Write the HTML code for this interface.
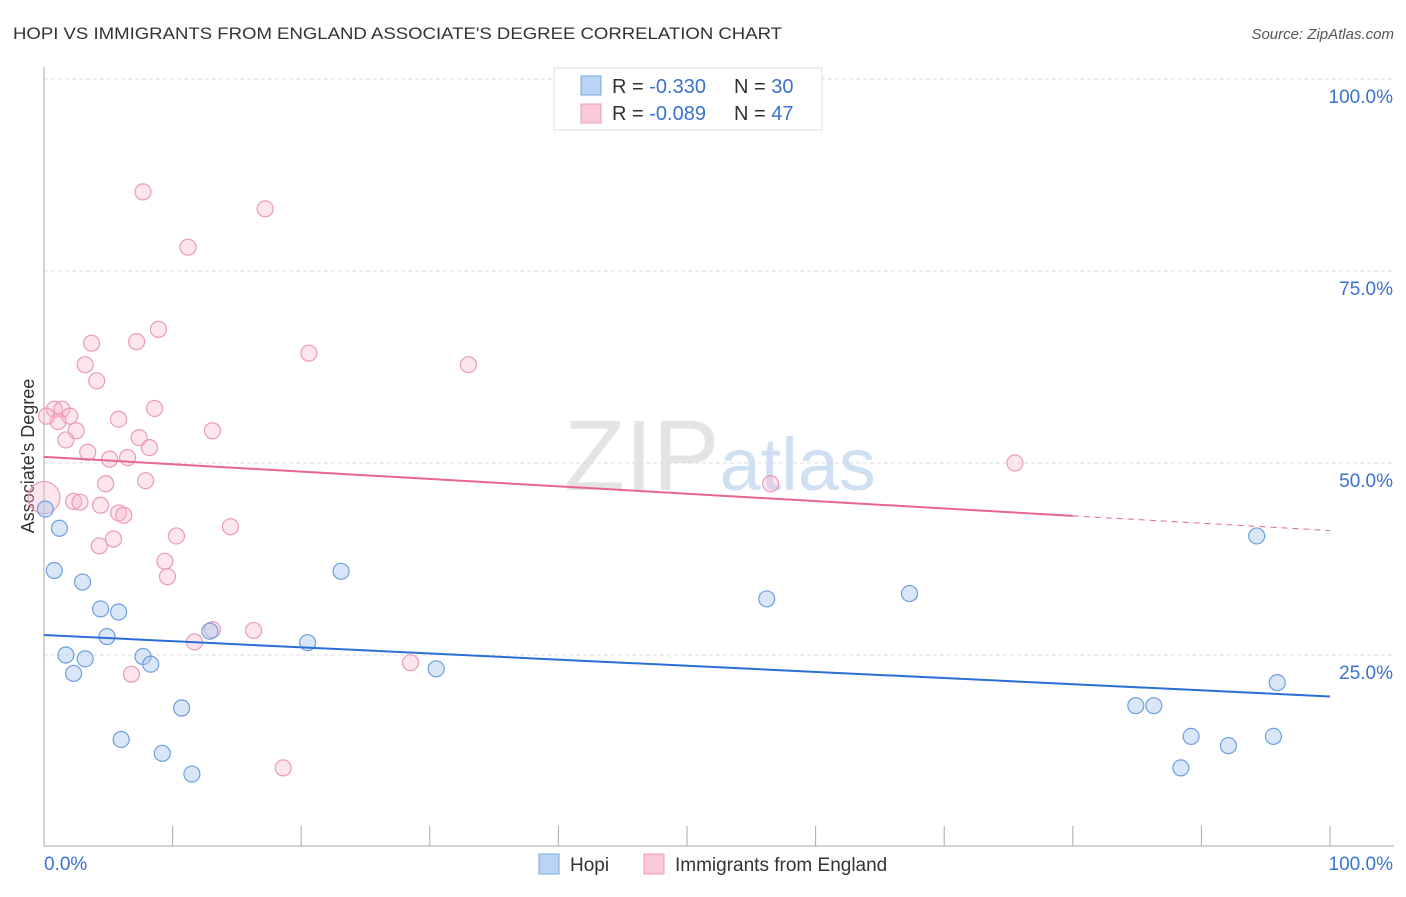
<!DOCTYPE html>
<html><head><meta charset="utf-8"><style>
body{margin:0;background:#fff;font-family:"Liberation Sans",sans-serif;}
svg text{font-family:"Liberation Sans",sans-serif;}
</style></head><body>
<svg width="1406" height="892" xmlns="http://www.w3.org/2000/svg">
<text x="13" y="39" font-size="17" fill="#333" textLength="769" lengthAdjust="spacingAndGlyphs">HOPI VS IMMIGRANTS FROM ENGLAND ASSOCIATE'S DEGREE CORRELATION CHART</text>
<text x="1394" y="39" font-size="15" fill="#555" text-anchor="end" font-style="italic">Source: ZipAtlas.com</text>
<text x="720" y="490" font-size="100" fill="#e4e4e4" text-anchor="middle" font-family="Liberation Serif">ZIP<tspan fill="#cfe0f3" font-family="Liberation Sans" font-size="74">atlas</tspan></text>
<g id="grid"></g>
<g id="axes"></g>
<text transform="translate(34,456) rotate(-90)" font-size="18" fill="#333" text-anchor="middle">Associate's Degree</text>
<g id="marks"></g>
<g>
<rect x="554" y="68" width="268" height="62" fill="#fff" stroke="#ddd"/>
<rect x="581" y="76" width="20" height="19" fill="#b9d4f5" stroke="#7aa7e0"/>
<rect x="581" y="104" width="20" height="19" fill="#f9c9d8" stroke="#ea9ab4"/>
<text x="612" y="93" font-size="20" fill="#333">R = <tspan fill="#3a72d1">-0.330</tspan></text>
<text x="734" y="93" font-size="20" fill="#333">N = <tspan fill="#3a72d1">30</tspan></text>
<text x="612" y="120" font-size="20" fill="#333">R = <tspan fill="#3a72d1">-0.089</tspan></text>
<text x="734" y="120" font-size="20" fill="#333">N = <tspan fill="#3a72d1">47</tspan></text>
</g>
<g>
<rect x="539" y="854" width="20" height="20" fill="#b9d4f5" stroke="#7aa7e0"/>
<text x="570" y="871" font-size="19" fill="#333">Hopi</text>
<rect x="644" y="854" width="20" height="20" fill="#f9c9d8" stroke="#ea9ab4"/>
<text x="675" y="871" font-size="19" fill="#333">Immigrants from England</text>
</g>
</svg>
<script>
const yTicks=[25,50,75,100];
const yTickLabels=["25.0%","50.0%","75.0%","100.0%"];
const hopiX=[0.1,1.2,0.8,3,4.4,5.8,4.9,1.7,3.2,2.3,7.7,8.3,10.7,6,9.2,11.5,12.9,20.5,23.1,30.5,56.2,67.3,84.9,86.3,89.2,88.4,92.1,95.6,94.3,95.9];
const hopiY=[44,41.5,36,34.5,31,30.6,27.4,25,24.5,22.6,24.8,23.8,18.1,14,12.2,9.5,28.1,26.6,35.9,23.2,32.3,33,18.4,18.4,14.4,10.3,13.2,14.4,40.5,21.4];
const engX=[7.7,17.2,11.2,8.9,7.2,3.7,20.6,3.2,33,4.1,0.8,1.4,2,8.6,5.8,1.1,2.5,13.1,1.7,7.4,8.2,3.4,5.1,6.5,7.9,4.8,75.5,56.5,0,2.3,2.8,4.4,5.8,6.2,10.3,14.5,5.4,4.3,9.4,9.6,13.1,16.3,11.7,28.5,6.8,18.6,0.2];
const engY=[85.3,83.1,78.1,67.4,65.8,65.6,64.3,62.8,62.8,60.7,57,57,56.1,57.1,55.7,55.4,54.2,54.2,53,53.3,52,51.4,50.5,50.7,47.7,47.3,50,47.3,45.5,45,44.9,44.5,43.5,43.2,40.5,41.7,40.1,39.2,37.2,35.2,28.3,28.2,26.7,24,22.5,10.3,56.1];
const hopiTrend=[27.6,19.6];
const engTrend=[50.8,41.2];
const ns="http://www.w3.org/2000/svg";
const X=v=>44+v*12.86, Y=v=>847-v*7.68;
function el(t,a,p){const e=document.createElementNS(ns,t);for(const k in a)e.setAttribute(k,a[k]);p.appendChild(e);return e;}
const grid=document.getElementById('grid'),axes=document.getElementById('axes'),marks=document.getElementById('marks');
yTicks.forEach((t,i)=>{
 const l=el('line',{x1:44,x2:1394,y1:Y(t),y2:Y(t),stroke:'#ddd','stroke-dasharray':'4,3'},grid);
 
 
 const tx=el('text',{x:1393,y:Y(t)+24,'font-size':19,fill:'#3a72d1','text-anchor':'end'},axes);
 tx.textContent=yTickLabels[i];
 
 
});
el('line',{x1:44,x2:44,y1:67,y2:846,stroke:'#aaa'},axes);
el('line',{x1:44,x2:1394,y1:846,y2:846,stroke:'#aaa'},axes);
for(let i=0;i<=10;i++){el('line',{x1:X(i*10),x2:X(i*10),y1:826,y2:846,stroke:'#aaa'},axes);}
const x0=el('text',{x:44,y:870,'font-size':19,fill:'#3a72d1'},axes);x0.textContent='0.0%';


const x1=el('text',{x:1393,y:870,'font-size':19,fill:'#3a72d1','text-anchor':'end'},axes);x1.textContent='100.0%';


engX.forEach((v,i)=>{const r=i===28?16:8;const c=el('circle',{cx:X(v),cy:Y(engY[i]),r:r,fill:'rgba(246,180,202,0.35)',stroke:'#ec9ab5','stroke-width':1.2},marks);
 
 });
hopiX.forEach((v,i)=>{const c=el('circle',{cx:X(v),cy:Y(hopiY[i]),r:8,fill:'rgba(170,200,240,0.45)',stroke:'#6d9fdf','stroke-width':1.2},marks);
 
 });
const ey=x=>engTrend[0]+(engTrend[1]-engTrend[0])*x/100;
const t1=el('line',{x1:X(0),y1:Y(ey(0)),x2:X(80),y2:Y(ey(80)),stroke:'#e8668e','stroke-width':2},marks);


const t2=el('line',{x1:X(80),y1:Y(ey(80)),x2:X(100),y2:Y(ey(100)),stroke:'#e8668e','stroke-width':1,'stroke-dasharray':'6,5'},marks);


const t3=el('line',{x1:X(0),y1:Y(hopiTrend[0]),x2:X(100),y2:Y(hopiTrend[1]),stroke:'#2a6fd6','stroke-width':2},marks);


</script>
</body></html>
